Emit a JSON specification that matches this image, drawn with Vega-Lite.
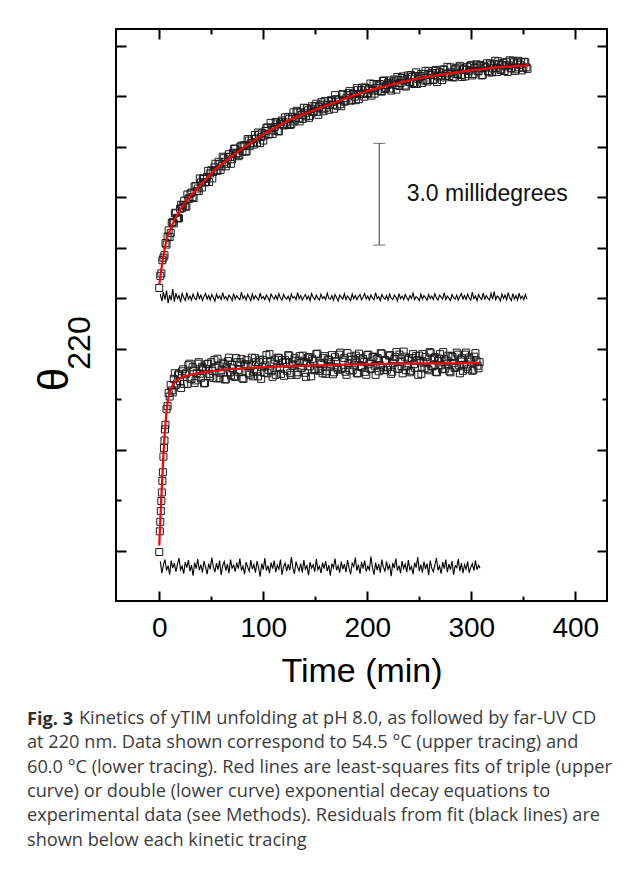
{
  "$schema": "https://vega.github.io/schema/vega-lite/v6.json",
  "width": 491,
  "height": 572,
  "autosize": {"type": "none"},
  "padding": {"left": 116, "top": 29, "right": 22, "bottom": 273},
  "background": "white",
  "title": {
    "text": "Fig. 3",
    "subtitle": [
      "\u200b\u00a0\u00a0\u00a0\u00a0\u00a0\u00a0\u00a0\u00a0\u00a0\u00a0\u00a0Kinetics of yTIM unfolding at pH 8.0, as followed by far-UV CD",
      "at 220 nm. Data shown correspond to 54.5 °C (upper tracing) and",
      "60.0 °C (lower tracing). Red lines are least-squares fits of triple (upper",
      "curve) or double (lower curve) exponential decay equations to",
      "experimental data (see Methods). Residuals from fit (black lines) are",
      "shown below each kinetic tracing"
    ],
    "orient": "bottom",
    "anchor": "start",
    "frame": "group",
    "dx": -89,
    "offset": 23,
    "font": "Open Sans",
    "fontSize": 18.2,
    "fontWeight": "bold",
    "color": "#2e2e2e",
    "baseline": "top",
    "subtitleFont": "Open Sans",
    "subtitleFontSize": 18.2,
    "subtitleFontWeight": "normal",
    "subtitleColor": "#3c3c3c",
    "subtitleLineHeight": 24.3,
    "subtitlePadding": -19
  },
  "datasets": {
    "up": [
      {"t":0,"v":5.20},{"t":1,"v":5.44},{"t":2,"v":5.49},{"t":3,"v":5.75},{"t":4,"v":5.80},{"t":5,"v":5.85},{"t":6,"v":6.09},{"t":7,"v":6.06},{"t":8,"v":6.22},{"t":10,"v":6.21},
      {"t":12,"v":6.49},{"t":14,"v":6.48},{"t":16,"v":6.69},{"t":18,"v":6.58},{"t":20,"v":6.77},{"t":22,"v":6.78},{"t":24,"v":6.93},{"t":26,"v":6.81},{"t":28,"v":6.97},{"t":30,"v":7.07},
      {"t":32,"v":7.00},{"t":34,"v":7.21},{"t":36,"v":7.12},{"t":38,"v":7.12},{"t":40,"v":7.29},{"t":42,"v":7.37},{"t":44,"v":7.29},{"t":46,"v":7.40},{"t":48,"v":7.30},{"t":50,"v":7.53},
      {"t":52,"v":7.50},{"t":54,"v":7.66},{"t":56,"v":7.52},{"t":58,"v":7.65},{"t":60,"v":7.61},{"t":62,"v":7.77},{"t":64,"v":7.61},{"t":66,"v":7.80},{"t":68,"v":7.79},{"t":70,"v":7.75},
      {"t":72,"v":7.96},{"t":74,"v":7.85},{"t":76,"v":7.81},{"t":78,"v":8.00},{"t":80,"v":7.91},{"t":82,"v":8.03},{"t":84,"v":7.91},{"t":86,"v":8.12},{"t":88,"v":8.07},{"t":90,"v":8.07},
      {"t":92,"v":8.23},{"t":94,"v":8.08},{"t":96,"v":8.24},{"t":98,"v":8.19},{"t":100,"v":8.12},{"t":102,"v":8.31},{"t":104,"v":8.38},{"t":106,"v":8.25},{"t":108,"v":8.37},{"t":110,"v":8.32},
      {"t":112,"v":8.49},{"t":114,"v":8.31},{"t":116,"v":8.45},{"t":118,"v":8.52},{"t":120,"v":8.42},{"t":122,"v":8.48},{"t":124,"v":8.59},{"t":126,"v":8.43},{"t":128,"v":8.59},{"t":130,"v":8.50},
      {"t":132,"v":8.71},{"t":134,"v":8.57},{"t":136,"v":8.68},{"t":138,"v":8.55},{"t":140,"v":8.66},{"t":142,"v":8.76},{"t":144,"v":8.57},{"t":146,"v":8.75},{"t":148,"v":8.69},{"t":150,"v":8.80},
      {"t":152,"v":8.69},{"t":154,"v":8.79},{"t":156,"v":8.88},{"t":158,"v":8.70},{"t":160,"v":8.77},{"t":162,"v":8.90},{"t":164,"v":8.83},{"t":166,"v":8.90},{"t":168,"v":8.75},{"t":170,"v":8.94},
      {"t":172,"v":8.92},{"t":174,"v":8.84},{"t":176,"v":9.04},{"t":178,"v":8.89},{"t":180,"v":8.96},{"t":182,"v":9.06},{"t":184,"v":8.91},{"t":186,"v":9.04},{"t":188,"v":8.99},{"t":190,"v":9.16},
      {"t":192,"v":8.94},{"t":194,"v":9.12},{"t":196,"v":9.05},{"t":198,"v":9.17},{"t":200,"v":9.04},{"t":202,"v":9.14},{"t":204,"v":9.01},{"t":206,"v":9.24},{"t":208,"v":9.16},{"t":210,"v":9.11},
      {"t":212,"v":9.24},{"t":214,"v":9.09},{"t":216,"v":9.31},{"t":218,"v":9.16},{"t":220,"v":9.26},{"t":222,"v":9.15},{"t":224,"v":9.25},{"t":226,"v":9.33},{"t":228,"v":9.13},{"t":230,"v":9.32},
      {"t":232,"v":9.26},{"t":234,"v":9.39},{"t":236,"v":9.21},{"t":238,"v":9.34},{"t":240,"v":9.28},{"t":242,"v":9.42},{"t":244,"v":9.26},{"t":246,"v":9.40},{"t":248,"v":9.24},{"t":250,"v":9.37},
      {"t":252,"v":9.44},{"t":254,"v":9.31},{"t":256,"v":9.50},{"t":258,"v":9.29},{"t":260,"v":9.42},{"t":262,"v":9.46},{"t":264,"v":9.33},{"t":266,"v":9.52},{"t":268,"v":9.39},{"t":270,"v":9.47},
      {"t":272,"v":9.32},{"t":274,"v":9.52},{"t":276,"v":9.40},{"t":278,"v":9.45},{"t":280,"v":9.57},{"t":282,"v":9.38},{"t":284,"v":9.53},{"t":286,"v":9.44},{"t":288,"v":9.57},{"t":290,"v":9.42},
      {"t":292,"v":9.53},{"t":294,"v":9.39},{"t":296,"v":9.58},{"t":298,"v":9.50},{"t":300,"v":9.62},{"t":302,"v":9.44},{"t":304,"v":9.57},{"t":306,"v":9.50},{"t":308,"v":9.62},{"t":310,"v":9.41},
      {"t":312,"v":9.60},{"t":314,"v":9.57},{"t":316,"v":9.50},{"t":318,"v":9.65},{"t":320,"v":9.47},{"t":322,"v":9.63},{"t":324,"v":9.56},{"t":326,"v":9.69},{"t":328,"v":9.52},{"t":330,"v":9.62},
      {"t":332,"v":9.50},{"t":334,"v":9.68},{"t":336,"v":9.61},{"t":338,"v":9.55},{"t":340,"v":9.70},{"t":342,"v":9.50},{"t":344,"v":9.65},{"t":346,"v":9.57},{"t":348,"v":9.68},{"t":350,"v":9.56},
      {"t":352,"v":9.67},{"t":354,"v":9.54},
      {"t":9,"v":6.34},{"t":11,"v":6.29},{"t":13,"v":6.51},{"t":15,"v":6.68},{"t":17,"v":6.59},{"t":19,"v":6.58},{"t":21,"v":6.85},{"t":23,"v":6.84},{"t":25,"v":6.82},{"t":27,"v":7.05},
      {"t":29,"v":6.97},{"t":31,"v":7.09},{"t":33,"v":6.98},{"t":35,"v":7.22},{"t":37,"v":7.17},{"t":39,"v":7.37},{"t":41,"v":7.19},{"t":43,"v":7.36},{"t":45,"v":7.30},{"t":47,"v":7.52},
      {"t":49,"v":7.47},{"t":51,"v":7.37},{"t":53,"v":7.59},{"t":55,"v":7.53},{"t":57,"v":7.70},{"t":59,"v":7.54},{"t":61,"v":7.80},{"t":63,"v":7.70},{"t":65,"v":7.66},{"t":67,"v":7.85},
      {"t":69,"v":7.66},{"t":71,"v":7.88},{"t":73,"v":7.96},{"t":75,"v":7.87},{"t":77,"v":7.83},{"t":79,"v":8.02},{"t":81,"v":8.01},{"t":83,"v":7.90},{"t":85,"v":8.15},{"t":87,"v":8.01},
      {"t":89,"v":8.15},{"t":91,"v":8.04},{"t":93,"v":8.16},{"t":95,"v":8.28},{"t":97,"v":8.07},{"t":99,"v":8.27},{"t":101,"v":8.22},{"t":103,"v":8.37},{"t":105,"v":8.24},{"t":107,"v":8.47},
      {"t":109,"v":8.25},{"t":111,"v":8.39},{"t":113,"v":8.46},{"t":115,"v":8.30},{"t":117,"v":8.49},{"t":119,"v":8.45},{"t":121,"v":8.58},{"t":123,"v":8.43},{"t":125,"v":8.55},{"t":127,"v":8.45},
      {"t":129,"v":8.68},{"t":131,"v":8.54},{"t":133,"v":8.68},{"t":135,"v":8.50},{"t":137,"v":8.63},{"t":139,"v":8.77},{"t":141,"v":8.60},{"t":143,"v":8.72},{"t":145,"v":8.61},{"t":147,"v":8.80},
      {"t":149,"v":8.70},{"t":151,"v":8.85},{"t":153,"v":8.63},{"t":155,"v":8.83},{"t":157,"v":8.74},{"t":159,"v":8.90},{"t":161,"v":8.83},{"t":163,"v":8.73},{"t":165,"v":8.92},{"t":167,"v":8.83},
      {"t":169,"v":9.02},{"t":171,"v":8.81},{"t":173,"v":8.93},{"t":175,"v":8.80},{"t":177,"v":9.03},{"t":179,"v":8.91},{"t":181,"v":9.02},{"t":183,"v":9.10},{"t":185,"v":8.93},{"t":187,"v":9.04},
      {"t":189,"v":8.92},{"t":191,"v":9.12},{"t":193,"v":9.04},{"t":195,"v":9.17},{"t":197,"v":8.99},{"t":199,"v":9.16},{"t":201,"v":9.06},{"t":203,"v":9.25},{"t":205,"v":9.11},{"t":207,"v":9.05},
      {"t":209,"v":9.23},{"t":211,"v":9.21},{"t":213,"v":9.10},{"t":215,"v":9.30},{"t":217,"v":9.14},{"t":219,"v":9.22},{"t":221,"v":9.31},{"t":223,"v":9.11},{"t":225,"v":9.29},{"t":227,"v":9.22},
      {"t":229,"v":9.38},{"t":231,"v":9.20},{"t":233,"v":9.36},{"t":235,"v":9.31},{"t":237,"v":9.19},{"t":239,"v":9.41},{"t":241,"v":9.28},{"t":243,"v":9.38},{"t":245,"v":9.24},{"t":247,"v":9.47},
      {"t":249,"v":9.34},{"t":251,"v":9.40},{"t":253,"v":9.26},{"t":255,"v":9.44},{"t":257,"v":9.32},{"t":259,"v":9.50},{"t":261,"v":9.43},{"t":263,"v":9.32},{"t":265,"v":9.50},{"t":267,"v":9.28},
      {"t":269,"v":9.47},{"t":271,"v":9.41},{"t":273,"v":9.53},{"t":275,"v":9.37},{"t":277,"v":9.58},{"t":279,"v":9.40},{"t":281,"v":9.47},{"t":283,"v":9.37},{"t":285,"v":9.55},{"t":287,"v":9.44},
      {"t":289,"v":9.60},{"t":291,"v":9.38},{"t":293,"v":9.55},{"t":295,"v":9.52},{"t":297,"v":9.44},{"t":299,"v":9.60},{"t":301,"v":9.41},{"t":303,"v":9.56},{"t":305,"v":9.63},{"t":307,"v":9.49},
      {"t":309,"v":9.60},{"t":311,"v":9.42},{"t":313,"v":9.57},{"t":315,"v":9.65},{"t":317,"v":9.47},{"t":319,"v":9.61},{"t":321,"v":9.55},{"t":323,"v":9.70},{"t":325,"v":9.48},{"t":327,"v":9.64},
      {"t":329,"v":9.53},{"t":331,"v":9.66},{"t":333,"v":9.59},{"t":335,"v":9.48},{"t":337,"v":9.71},{"t":339,"v":9.56},{"t":341,"v":9.67},{"t":343,"v":9.53},{"t":345,"v":9.70},{"t":347,"v":9.62},
      {"t":349,"v":9.51},{"t":351,"v":9.68},{"t":353,"v":9.57}
    ],
    "lo": [
      {"t":0,"v":-0.03},{"t":0.5,"v":0.38},{"t":1,"v":0.57},{"t":1.5,"v":0.78},{"t":2,"v":0.98},{"t":2.5,"v":1.15},{"t":3,"v":1.38},{"t":3.5,"v":1.55},{"t":4,"v":1.86},{"t":4.5,"v":2.03},
      {"t":5,"v":2.18},{"t":5.5,"v":2.40},{"t":6,"v":2.49},{"t":7,"v":2.80},{"t":8,"v":2.86},{"t":9,"v":3.12},{"t":10,"v":3.05},{"t":11,"v":3.28},{"t":12,"v":3.17},{"t":14,"v":3.40},
      {"t":16,"v":3.28},{"t":18,"v":3.47},{"t":20,"v":3.35},
      {"t":22,"v":3.55},{"t":24,"v":3.30},{"t":26,"v":3.51},{"t":28,"v":3.67},{"t":30,"v":3.40},{"t":32,"v":3.63},{"t":34,"v":3.32},{"t":36,"v":3.52},{"t":38,"v":3.73},{"t":40,"v":3.42},
      {"t":42,"v":3.61},{"t":44,"v":3.32},{"t":46,"v":3.69},{"t":48,"v":3.50},{"t":50,"v":3.73},{"t":52,"v":3.42},{"t":54,"v":3.62},{"t":56,"v":3.80},{"t":58,"v":3.41},{"t":60,"v":3.58},
      {"t":62,"v":3.69},{"t":64,"v":3.39},{"t":66,"v":3.75},{"t":68,"v":3.53},{"t":70,"v":3.68},{"t":72,"v":3.45},{"t":74,"v":3.81},{"t":76,"v":3.58},{"t":78,"v":3.73},{"t":80,"v":3.41},
      {"t":82,"v":3.68},{"t":84,"v":3.77},{"t":86,"v":3.51},{"t":88,"v":3.65},{"t":90,"v":3.45},{"t":92,"v":3.81},{"t":94,"v":3.55},{"t":96,"v":3.73},{"t":98,"v":3.40},{"t":100,"v":3.77},
      {"t":102,"v":3.67},{"t":104,"v":3.51},{"t":106,"v":3.89},{"t":108,"v":3.55},{"t":110,"v":3.70},{"t":112,"v":3.48},{"t":114,"v":3.82},{"t":116,"v":3.62},{"t":118,"v":3.77},{"t":120,"v":3.46},
      {"t":122,"v":3.73},{"t":124,"v":3.87},{"t":126,"v":3.52},{"t":128,"v":3.66},{"t":130,"v":3.81},{"t":132,"v":3.48},{"t":134,"v":3.76},{"t":136,"v":3.61},{"t":138,"v":3.86},{"t":140,"v":3.52},
      {"t":142,"v":3.71},{"t":144,"v":3.83},{"t":146,"v":3.45},{"t":148,"v":3.76},{"t":150,"v":3.59},{"t":152,"v":3.90},{"t":154,"v":3.56},{"t":156,"v":3.69},{"t":158,"v":3.81},{"t":160,"v":3.50},
      {"t":162,"v":3.78},{"t":164,"v":3.66},{"t":166,"v":3.87},{"t":168,"v":3.53},{"t":170,"v":3.75},{"t":172,"v":3.58},{"t":174,"v":3.92},{"t":176,"v":3.62},{"t":178,"v":3.81},{"t":180,"v":3.48},
      {"t":182,"v":3.71},{"t":184,"v":3.84},{"t":186,"v":3.57},{"t":188,"v":3.77},{"t":190,"v":3.51},{"t":192,"v":3.90},{"t":194,"v":3.65},{"t":196,"v":3.79},{"t":198,"v":3.54},{"t":200,"v":3.87},
      {"t":202,"v":3.70},{"t":204,"v":3.60},{"t":206,"v":3.84},{"t":208,"v":3.48},{"t":210,"v":3.81},{"t":212,"v":3.67},{"t":214,"v":3.90},{"t":216,"v":3.57},{"t":218,"v":3.76},{"t":220,"v":3.63},
      {"t":222,"v":3.87},{"t":224,"v":3.54},{"t":226,"v":3.79},{"t":228,"v":3.93},{"t":230,"v":3.60},{"t":232,"v":3.74},{"t":234,"v":3.51},{"t":236,"v":3.84},{"t":238,"v":3.65},{"t":240,"v":3.81},
      {"t":242,"v":3.56},{"t":244,"v":3.89},{"t":246,"v":3.62},{"t":248,"v":3.77},{"t":250,"v":3.86},{"t":252,"v":3.50},{"t":254,"v":3.72},{"t":256,"v":3.83},{"t":258,"v":3.60},{"t":260,"v":3.93},
      {"t":262,"v":3.65},{"t":264,"v":3.81},{"t":266,"v":3.54},{"t":268,"v":3.76},{"t":270,"v":3.89},{"t":272,"v":3.59},{"t":274,"v":3.79},{"t":276,"v":3.69},{"t":278,"v":3.86},{"t":280,"v":3.53},
      {"t":282,"v":3.83},{"t":284,"v":3.62},{"t":286,"v":3.92},{"t":288,"v":3.67},{"t":290,"v":3.77},{"t":292,"v":3.56},{"t":294,"v":3.88},{"t":296,"v":3.64},{"t":298,"v":3.82},{"t":300,"v":3.74},
      {"t":302,"v":3.58},{"t":304,"v":3.91},{"t":306,"v":3.66},{"t":308,"v":3.73},
      {"t":13,"v":3.13},{"t":15,"v":3.51},{"t":17,"v":3.31},{"t":19,"v":3.50},{"t":21,"v":3.22},{"t":23,"v":3.59},{"t":25,"v":3.49},{"t":27,"v":3.30},{"t":29,"v":3.70},{"t":31,"v":3.40},
      {"t":33,"v":3.56},{"t":35,"v":3.37},{"t":37,"v":3.70},{"t":39,"v":3.50},{"t":41,"v":3.64},{"t":43,"v":3.31},{"t":45,"v":3.59},{"t":47,"v":3.70},{"t":49,"v":3.45},{"t":51,"v":3.56},
      {"t":53,"v":3.77},{"t":55,"v":3.41},{"t":57,"v":3.66},{"t":59,"v":3.52},{"t":61,"v":3.72},{"t":63,"v":3.39},{"t":65,"v":3.64},{"t":67,"v":3.82},{"t":69,"v":3.47},{"t":71,"v":3.61},
      {"t":73,"v":3.44},{"t":75,"v":3.73},{"t":77,"v":3.53},{"t":79,"v":3.79},{"t":81,"v":3.40},{"t":83,"v":3.69},{"t":85,"v":3.65},{"t":87,"v":3.48},{"t":89,"v":3.82},{"t":91,"v":3.54},
      {"t":93,"v":3.73},{"t":95,"v":3.45},{"t":97,"v":3.78},{"t":99,"v":3.63},{"t":101,"v":3.52},{"t":103,"v":3.87},{"t":105,"v":3.58},{"t":107,"v":3.73},{"t":109,"v":3.44},{"t":111,"v":3.78},
      {"t":113,"v":3.61},{"t":115,"v":3.81},{"t":117,"v":3.50},{"t":119,"v":3.72},{"t":121,"v":3.77},{"t":123,"v":3.56},{"t":125,"v":3.86},{"t":127,"v":3.48},{"t":129,"v":3.69},{"t":131,"v":3.76},
      {"t":133,"v":3.53},{"t":135,"v":3.85},{"t":137,"v":3.62},{"t":139,"v":3.74},{"t":141,"v":3.44},{"t":143,"v":3.82},{"t":145,"v":3.65},{"t":147,"v":3.80},{"t":149,"v":3.57},{"t":151,"v":3.89},
      {"t":153,"v":3.60},{"t":155,"v":3.72},{"t":157,"v":3.51},{"t":159,"v":3.85},{"t":161,"v":3.55},{"t":163,"v":3.78},{"t":165,"v":3.70},{"t":167,"v":3.49},{"t":169,"v":3.83},{"t":171,"v":3.63},
      {"t":173,"v":3.88},{"t":175,"v":3.60},{"t":177,"v":3.74},{"t":179,"v":3.54},{"t":181,"v":3.91},{"t":183,"v":3.57},{"t":185,"v":3.78},{"t":187,"v":3.67},{"t":189,"v":3.86},{"t":191,"v":3.51},
      {"t":193,"v":3.81},{"t":195,"v":3.63},{"t":197,"v":3.73},{"t":199,"v":3.48},{"t":201,"v":3.88},{"t":203,"v":3.60},{"t":205,"v":3.83},{"t":207,"v":3.66},{"t":209,"v":3.79},{"t":211,"v":3.55},
      {"t":213,"v":3.91},{"t":215,"v":3.63},{"t":217,"v":3.77},{"t":219,"v":3.58},{"t":221,"v":3.86},{"t":223,"v":3.50},{"t":225,"v":3.71},{"t":227,"v":3.83},{"t":229,"v":3.60},{"t":231,"v":3.88},
      {"t":233,"v":3.65},{"t":235,"v":3.94},{"t":237,"v":3.57},{"t":239,"v":3.78},{"t":241,"v":3.53},{"t":243,"v":3.81},{"t":245,"v":3.69},{"t":247,"v":3.85},{"t":249,"v":3.48},{"t":251,"v":3.76},
      {"t":253,"v":3.89},{"t":255,"v":3.61},{"t":257,"v":3.73},{"t":259,"v":3.57},{"t":261,"v":3.91},{"t":263,"v":3.65},{"t":265,"v":3.83},{"t":267,"v":3.53},{"t":269,"v":3.80},{"t":271,"v":3.67},
      {"t":273,"v":3.93},{"t":275,"v":3.60},{"t":277,"v":3.76},{"t":279,"v":3.55},{"t":281,"v":3.85},{"t":283,"v":3.71},{"t":285,"v":3.63},{"t":287,"v":3.88},{"t":289,"v":3.51},{"t":291,"v":3.81},
      {"t":293,"v":3.68},{"t":295,"v":3.92},{"t":297,"v":3.59},{"t":299,"v":3.78},{"t":301,"v":3.56},{"t":303,"v":3.84},{"t":305,"v":3.76},{"t":307,"v":3.61}
    ],
    "upfit": [
      {"t":0,"v":5.26},{"t":1,"v":5.42},{"t":2,"v":5.57},{"t":3,"v":5.70},{"t":4,"v":5.83},{"t":5,"v":5.95},{"t":6,"v":6.05},{"t":8,"v":6.21},{"t":10,"v":6.33},{"t":12,"v":6.43},
      {"t":15,"v":6.56},{"t":18,"v":6.67},{"t":22,"v":6.80},{"t":26,"v":6.92},{"t":30,"v":7.02},{"t":35,"v":7.13},{"t":40,"v":7.25},{"t":45,"v":7.36},{"t":50,"v":7.47},{"t":55,"v":7.57},
      {"t":60,"v":7.65},{"t":65,"v":7.73},{"t":70,"v":7.81},{"t":80,"v":7.96},{"t":90,"v":8.10},{"t":100,"v":8.24},{"t":110,"v":8.36},{"t":120,"v":8.47},{"t":130,"v":8.57},{"t":140,"v":8.65},
      {"t":150,"v":8.73},{"t":160,"v":8.81},{"t":170,"v":8.88},{"t":180,"v":8.96},{"t":190,"v":9.03},{"t":200,"v":9.10},{"t":210,"v":9.16},{"t":220,"v":9.21},{"t":230,"v":9.26},{"t":240,"v":9.31},
      {"t":250,"v":9.35},{"t":260,"v":9.39},{"t":270,"v":9.42},{"t":280,"v":9.45},{"t":290,"v":9.48},{"t":300,"v":9.51},{"t":310,"v":9.53},{"t":320,"v":9.56},{"t":330,"v":9.58},{"t":340,"v":9.59},
      {"t":355,"v":9.61}
    ],
    "lofit": [
      {"t":0,"v":0.10},{"t":1,"v":0.60},{"t":2,"v":1.05},{"t":3,"v":1.48},{"t":4,"v":1.90},{"t":5,"v":2.24},{"t":6,"v":2.52},{"t":7,"v":2.76},{"t":8,"v":2.93},{"t":9,"v":3.05},
      {"t":10,"v":3.13},{"t":12,"v":3.24},{"t":15,"v":3.33},{"t":18,"v":3.39},{"t":23,"v":3.44},{"t":30,"v":3.48},{"t":40,"v":3.52},{"t":55,"v":3.56},{"t":70,"v":3.59},{"t":90,"v":3.62},
      {"t":110,"v":3.64},{"t":140,"v":3.66},{"t":180,"v":3.68},{"t":230,"v":3.70},{"t":308,"v":3.71}
    ],
    "upres": [
      {"t":1,"v":5.08},{"t":2.5,"v":4.94},{"t":4,"v":5.12},{"t":5.5,"v":4.97},{"t":7,"v":5.15},{"t":8.5,"v":4.90},{"t":10,"v":5.06},{"t":11.5,"v":4.96},{"t":13,"v":5.18},{"t":14.5,"v":4.93},
      {"t":16,"v":5.10},{"t":17.5,"v":4.99},{"t":19,"v":5.05},{"t":20.5,"v":4.92},{"t":22,"v":5.09},{"t":23.5,"v":5.01},{"t":25,"v":4.95},{"t":26.5,"v":5.11},{"t":28,"v":4.98},{"t":29.5,"v":5.04},
      {"t":31,"v":4.96},{"t":32.5,"v":5.08},{"t":34,"v":5.00},{"t":35.5,"v":4.97},{"t":37,"v":5.10},{"t":38.5,"v":4.99},{"t":40,"v":5.06},{"t":41.5,"v":4.95},{"t":43,"v":5.03},{"t":44.5,"v":5.09},
      {"t":46,"v":4.98},{"t":47.5,"v":5.05},{"t":49,"v":4.96},{"t":50.5,"v":5.07},{"t":52,"v":5.01},{"t":53.5,"v":4.94},{"t":55,"v":5.08},{"t":56.5,"v":5.00},{"t":58,"v":5.04},{"t":59.5,"v":4.97},
      {"t":61,"v":5.11},{"t":62.5,"v":4.99},{"t":64,"v":5.03},{"t":65.5,"v":4.96},{"t":67,"v":5.06},{"t":68.5,"v":5.02},{"t":70,"v":4.95},{"t":71.5,"v":5.09},{"t":73,"v":4.98},{"t":74.5,"v":5.05},
      {"t":76,"v":5.00},{"t":77.5,"v":4.97},{"t":79,"v":5.12},{"t":80.5,"v":4.99},{"t":82,"v":5.04},{"t":83.5,"v":4.96},{"t":85,"v":5.07},{"t":86.5,"v":5.01},{"t":88,"v":4.95},{"t":89.5,"v":5.08},
      {"t":91,"v":4.98},{"t":92.5,"v":5.05},{"t":94,"v":5.00},{"t":95.5,"v":4.96},{"t":97,"v":5.10},{"t":98.5,"v":4.99},{"t":100,"v":5.03},{"t":101.5,"v":4.97},{"t":103,"v":5.06},{"t":104.5,"v":5.01},
      {"t":106,"v":4.94},{"t":107.5,"v":5.08},{"t":109,"v":5.02},{"t":110.5,"v":4.98},{"t":112,"v":5.05},{"t":113.5,"v":4.97},{"t":115,"v":5.09},{"t":116.5,"v":5.00},{"t":118,"v":4.96},{"t":119.5,"v":5.07},
      {"t":121,"v":5.01},{"t":122.5,"v":4.98},{"t":124,"v":5.04},{"t":125.5,"v":4.95},{"t":127,"v":5.08},{"t":128.5,"v":5.00},{"t":130,"v":5.03},{"t":131.5,"v":4.97},{"t":133,"v":5.11},{"t":134.5,"v":4.99},
      {"t":136,"v":5.05},{"t":137.5,"v":4.96},{"t":139,"v":5.02},{"t":140.5,"v":5.07},{"t":142,"v":4.98},{"t":143.5,"v":5.04},{"t":145,"v":4.95},{"t":146.5,"v":5.09},{"t":148,"v":5.01},{"t":149.5,"v":4.97},
      {"t":151,"v":5.06},{"t":152.5,"v":5.00},{"t":154,"v":4.96},{"t":155.5,"v":5.08},{"t":157,"v":4.99},{"t":158.5,"v":5.03},{"t":160,"v":4.97},{"t":161.5,"v":5.10},{"t":163,"v":5.00},{"t":164.5,"v":4.98},
      {"t":166,"v":5.05},{"t":167.5,"v":4.96},{"t":169,"v":5.07},{"t":170.5,"v":5.01},{"t":172,"v":4.94},{"t":173.5,"v":5.06},{"t":175,"v":5.02},{"t":176.5,"v":4.98},{"t":178,"v":5.09},{"t":179.5,"v":4.97},
      {"t":181,"v":5.04},{"t":182.5,"v":5.00},{"t":184,"v":4.95},{"t":185.5,"v":5.08},{"t":187,"v":4.99},{"t":188.5,"v":5.05},{"t":190,"v":4.97},{"t":191.5,"v":5.03},{"t":193,"v":5.07},{"t":194.5,"v":4.96},
      {"t":196,"v":5.02},{"t":197.5,"v":5.09},{"t":199,"v":4.98},{"t":200.5,"v":5.04},{"t":202,"v":4.96},{"t":203.5,"v":5.06},{"t":205,"v":5.00},{"t":206.5,"v":4.97},{"t":208,"v":5.11},{"t":209.5,"v":4.99},
      {"t":211,"v":5.03},{"t":212.5,"v":4.95},{"t":214,"v":5.07},{"t":215.5,"v":5.01},{"t":217,"v":4.98},{"t":218.5,"v":5.05},{"t":220,"v":4.96},{"t":221.5,"v":5.08},{"t":223,"v":5.00},{"t":224.5,"v":4.97},
      {"t":226,"v":5.06},{"t":227.5,"v":5.02},{"t":229,"v":4.94},{"t":230.5,"v":5.09},{"t":232,"v":4.99},{"t":233.5,"v":5.04},{"t":235,"v":4.97},{"t":236.5,"v":5.07},{"t":238,"v":5.01},{"t":239.5,"v":4.96},
      {"t":241,"v":5.05},{"t":242.5,"v":4.99},{"t":244,"v":5.10},{"t":245.5,"v":4.97},{"t":247,"v":5.03},{"t":248.5,"v":5.00},{"t":250,"v":4.95},{"t":251.5,"v":5.08},{"t":253,"v":4.98},{"t":254.5,"v":5.05},
      {"t":256,"v":5.01},{"t":257.5,"v":4.96},{"t":259,"v":5.07},{"t":260.5,"v":4.99},{"t":262,"v":5.04},{"t":263.5,"v":4.97},{"t":265,"v":5.09},{"t":266.5,"v":5.00},{"t":268,"v":4.96},{"t":269.5,"v":5.06},
      {"t":271,"v":5.02},{"t":272.5,"v":4.98},{"t":274,"v":5.11},{"t":275.5,"v":4.97},{"t":277,"v":5.04},{"t":278.5,"v":5.00},{"t":280,"v":4.95},{"t":281.5,"v":5.07},{"t":283,"v":5.01},{"t":284.5,"v":4.98},
      {"t":286,"v":5.06},{"t":287.5,"v":4.96},{"t":289,"v":5.03},{"t":290.5,"v":5.09},{"t":292,"v":4.98},{"t":293.5,"v":5.05},{"t":295,"v":4.97},{"t":296.5,"v":5.08},{"t":298,"v":5.00},{"t":299.5,"v":4.96},
      {"t":301,"v":5.12},{"t":302.5,"v":4.99},{"t":304,"v":5.04},{"t":305.5,"v":4.95},{"t":307,"v":5.07},{"t":308.5,"v":5.01},{"t":310,"v":4.97},{"t":311.5,"v":5.10},{"t":313,"v":4.98},{"t":314.5,"v":5.05},
      {"t":316,"v":5.00},{"t":317.5,"v":4.96},{"t":319,"v":5.09},{"t":320.5,"v":4.98},{"t":322,"v":5.13},{"t":323.5,"v":4.97},{"t":325,"v":5.04},{"t":326.5,"v":5.01},{"t":328,"v":4.94},{"t":329.5,"v":5.08},
      {"t":331,"v":4.99},{"t":332.5,"v":5.06},{"t":334,"v":4.97},{"t":335.5,"v":5.11},{"t":337,"v":5.00},{"t":338.5,"v":4.95},{"t":340,"v":5.09},{"t":341.5,"v":4.98},{"t":343,"v":5.05},{"t":344.5,"v":4.96},
      {"t":346,"v":5.10},{"t":347.5,"v":4.99},{"t":349,"v":5.04},{"t":350.5,"v":4.97},{"t":352,"v":5.07},{"t":353.5,"v":4.98}
    ],
    "lores": [
      {"t":1,"v":-0.22},{"t":2.5,"v":-0.45},{"t":4,"v":-0.28},{"t":5.5,"v":-0.18},{"t":7,"v":-0.40},{"t":8.5,"v":-0.30},{"t":10,"v":-0.48},{"t":11.5,"v":-0.20},{"t":13,"v":-0.35},{"t":14.5,"v":-0.25},
      {"t":16,"v":-0.42},{"t":17.5,"v":-0.27},{"t":19,"v":-0.15},{"t":20.5,"v":-0.38},{"t":22,"v":-0.31},{"t":23.5,"v":-0.46},{"t":25,"v":-0.23},{"t":26.5,"v":-0.34},{"t":28,"v":-0.19},{"t":29.5,"v":-0.41},
      {"t":31,"v":-0.29},{"t":32.5,"v":-0.50},{"t":34,"v":-0.24},{"t":35.5,"v":-0.36},{"t":37,"v":-0.17},{"t":38.5,"v":-0.39},{"t":40,"v":-0.28},{"t":41.5,"v":-0.44},{"t":43,"v":-0.21},{"t":44.5,"v":-0.33},
      {"t":46,"v":-0.47},{"t":47.5,"v":-0.26},{"t":49,"v":-0.37},{"t":50.5,"v":-0.14},{"t":52,"v":-0.32},{"t":53.5,"v":-0.43},{"t":55,"v":-0.25},{"t":56.5,"v":-0.38},{"t":58,"v":-0.20},{"t":59.5,"v":-0.49},
      {"t":61,"v":-0.30},{"t":62.5,"v":-0.22},{"t":64,"v":-0.40},{"t":65.5,"v":-0.27},{"t":67,"v":-0.45},{"t":68.5,"v":-0.18},{"t":70,"v":-0.35},{"t":71.5,"v":-0.29},{"t":73,"v":-0.42},{"t":74.5,"v":-0.24},
      {"t":76,"v":-0.36},{"t":77.5,"v":-0.16},{"t":79,"v":-0.39},{"t":80.5,"v":-0.31},{"t":82,"v":-0.47},{"t":83.5,"v":-0.23},{"t":85,"v":-0.33},{"t":86.5,"v":-0.41},{"t":88,"v":-0.19},{"t":89.5,"v":-0.37},
      {"t":91,"v":-0.28},{"t":92.5,"v":-0.44},{"t":94,"v":-0.21},{"t":95.5,"v":-0.34},{"t":97,"v":-0.52},{"t":98.5,"v":-0.26},{"t":100,"v":-0.38},{"t":101.5,"v":-0.15},{"t":103,"v":-0.40},{"t":104.5,"v":-0.30},
      {"t":106,"v":-0.45},{"t":107.5,"v":-0.24},{"t":109,"v":-0.36},{"t":110.5,"v":-0.20},{"t":112,"v":-0.43},{"t":113.5,"v":-0.29},{"t":115,"v":-0.37},{"t":116.5,"v":-0.18},{"t":118,"v":-0.48},{"t":119.5,"v":-0.32},
      {"t":121,"v":-0.25},{"t":122.5,"v":-0.41},{"t":124,"v":-0.27},{"t":125.5,"v":-0.39},{"t":127,"v":-0.13},{"t":128.5,"v":-0.35},{"t":130,"v":-0.46},{"t":131.5,"v":-0.22},{"t":133,"v":-0.33},{"t":134.5,"v":-0.40},
      {"t":136,"v":-0.26},{"t":137.5,"v":-0.44},{"t":139,"v":-0.19},{"t":140.5,"v":-0.37},{"t":142,"v":-0.30},{"t":143.5,"v":-0.49},{"t":145,"v":-0.23},{"t":146.5,"v":-0.35},{"t":148,"v":-0.28},{"t":149.5,"v":-0.42},
      {"t":151,"v":-0.17},{"t":152.5,"v":-0.38},{"t":154,"v":-0.31},{"t":155.5,"v":-0.45},{"t":157,"v":-0.24},{"t":158.5,"v":-0.36},{"t":160,"v":-0.21},{"t":161.5,"v":-0.41},{"t":163,"v":-0.29},{"t":164.5,"v":-0.50},
      {"t":166,"v":-0.26},{"t":167.5,"v":-0.34},{"t":169,"v":-0.16},{"t":170.5,"v":-0.39},{"t":172,"v":-0.30},{"t":173.5,"v":-0.44},{"t":175,"v":-0.22},{"t":176.5,"v":-0.37},{"t":178,"v":-0.27},{"t":179.5,"v":-0.43},
      {"t":181,"v":-0.19},{"t":182.5,"v":-0.35},{"t":184,"v":-0.47},{"t":185.5,"v":-0.25},{"t":187,"v":-0.32},{"t":188.5,"v":-0.14},{"t":190,"v":-0.40},{"t":191.5,"v":-0.28},{"t":193,"v":-0.46},{"t":194.5,"v":-0.23},
      {"t":196,"v":-0.36},{"t":197.5,"v":-0.20},{"t":199,"v":-0.42},{"t":200.5,"v":-0.31},{"t":202,"v":-0.38},{"t":203.5,"v":-0.12},{"t":205,"v":-0.34},{"t":206.5,"v":-0.48},{"t":208,"v":-0.24},{"t":209.5,"v":-0.39},
      {"t":211,"v":-0.27},{"t":212.5,"v":-0.44},{"t":214,"v":-0.18},{"t":215.5,"v":-0.33},{"t":217,"v":-0.41},{"t":218.5,"v":-0.22},{"t":220,"v":-0.37},{"t":221.5,"v":-0.29},{"t":223,"v":-0.51},{"t":224.5,"v":-0.25},
      {"t":226,"v":-0.35},{"t":227.5,"v":-0.16},{"t":229,"v":-0.40},{"t":230.5,"v":-0.30},{"t":232,"v":-0.45},{"t":233.5,"v":-0.21},{"t":235,"v":-0.36},{"t":236.5,"v":-0.27},{"t":238,"v":-0.43},{"t":239.5,"v":-0.19},
      {"t":241,"v":-0.38},{"t":242.5,"v":-0.32},{"t":244,"v":-0.47},{"t":245.5,"v":-0.24},{"t":247,"v":-0.34},{"t":248.5,"v":-0.13},{"t":250,"v":-0.41},{"t":251.5,"v":-0.28},{"t":253,"v":-0.44},{"t":254.5,"v":-0.22},
      {"t":256,"v":-0.37},{"t":257.5,"v":-0.26},{"t":259,"v":-0.49},{"t":260.5,"v":-0.20},{"t":262,"v":-0.35},{"t":263.5,"v":-0.42},{"t":265,"v":-0.29},{"t":266.5,"v":-0.15},{"t":268,"v":-0.39},{"t":269.5,"v":-0.31},
      {"t":271,"v":-0.46},{"t":272.5,"v":-0.23},{"t":274,"v":-0.36},{"t":275.5,"v":-0.18},{"t":277,"v":-0.43},{"t":278.5,"v":-0.27},{"t":280,"v":-0.38},{"t":281.5,"v":-0.21},{"t":283,"v":-0.48},{"t":284.5,"v":-0.30},
      {"t":286,"v":-0.34},{"t":287.5,"v":-0.17},{"t":289,"v":-0.41},{"t":290.5,"v":-0.25},{"t":292,"v":-0.45},{"t":293.5,"v":-0.28},{"t":295,"v":-0.37},{"t":296.5,"v":-0.22},{"t":298,"v":-0.44},{"t":299.5,"v":-0.33},
      {"t":301,"v":-0.26},{"t":302.5,"v":-0.40},{"t":304,"v":-0.20},{"t":305.5,"v":-0.38},{"t":307,"v":-0.29},{"t":308.5,"v":-0.35}
    ],
    "bar": [{"t":211.5,"lo":6.05,"hi":8.065}],
    "barcaps": [{"t":211.5,"v":6.05},{"t":211.5,"v":8.065}],
    "note": [{"t":237.9,"v":7.07,"label":"3.0 millidegrees"}]
  },
  "resolve": {"axis": {"x": "independent", "y": "independent"}},
  "layer": [
    {
      "data": {"name": "upres"},
      "mark": {"type": "line", "color": "black", "strokeWidth": 1.1},
      "encoding": {
        "x": {"field": "t", "type": "quantitative", "scale": {"domain": [-41.6, 430.5], "nice": false, "zero": false}, "axis": null},
        "y": {"field": "v", "type": "quantitative", "scale": {"domain": [-1.0, 10.33], "nice": false, "zero": false}, "axis": null}
      }
    },
    {
      "data": {"name": "lores"},
      "mark": {"type": "line", "color": "black", "strokeWidth": 1.1},
      "encoding": {
        "x": {"field": "t", "type": "quantitative", "axis": null},
        "y": {"field": "v", "type": "quantitative", "axis": null}
      }
    },
    {
      "data": {"name": "up"},
      "mark": {"type": "point", "shape": "square", "filled": false, "size": 49, "color": "#1a1a1a", "strokeWidth": 1, "opacity": 1},
      "encoding": {
        "x": {"field": "t", "type": "quantitative",
          "axis": {"orient": "bottom", "values": [0, 100, 200, 300, 400], "tickSize": -10, "labelFontSize": 28, "labelBaseline": "alphabetic", "labelPadding": 45, "labelFlush": false, "labelOverlap": false,
            "title": "Time (min)", "titleFontSize": 34, "titleBaseline": "alphabetic", "titleAlign": "center", "titleX": 245.5, "titleY": 80}},
        "y": {"field": "v", "type": "quantitative",
          "axis": {"orient": "left", "values": [0, 2, 4, 5, 6, 7, 8, 9, 10], "tickSize": -10, "labels": false,
            "title": "θ", "titleFontSize": 42, "titleAngle": -90, "titleBaseline": "alphabetic", "titleAlign": "center", "titleX": -49, "titleY": 350}}
      }
    },
    {
      "data": {"name": "lo"},
      "mark": {"type": "point", "shape": "square", "filled": false, "size": 49, "color": "#1a1a1a", "strokeWidth": 1, "opacity": 1},
      "encoding": {
        "x": {"field": "t", "type": "quantitative",
          "axis": {"orient": "top", "values": [0, 100, 200, 300, 400], "tickSize": -10, "labels": false, "title": null}},
        "y": {"field": "v", "type": "quantitative",
          "axis": {"orient": "right", "values": [0, 2, 4, 5, 6, 7, 8, 9, 10], "tickSize": -10, "labels": false, "title": null}}
      }
    },
    {
      "data": {"name": "upfit"},
      "mark": {"type": "line", "color": "#ff0000", "strokeWidth": 2.2, "interpolate": "monotone"},
      "encoding": {
        "x": {"field": "t", "type": "quantitative",
          "axis": {"orient": "bottom", "values": [50, 150, 250, 350], "tickSize": -5, "labels": false, "title": null}},
        "y": {"field": "v", "type": "quantitative",
          "axis": {"orient": "left", "values": [1, 3], "tickSize": -5, "labels": false,
            "title": "220", "titleFontSize": 32, "titleAngle": -90, "titleBaseline": "alphabetic", "titleAlign": "center", "titleX": -27, "titleY": 313.5}}
      }
    },
    {
      "data": {"name": "lofit"},
      "mark": {"type": "line", "color": "#ff0000", "strokeWidth": 2.2, "interpolate": "monotone"},
      "encoding": {
        "x": {"field": "t", "type": "quantitative",
          "axis": {"orient": "top", "values": [50, 150, 250, 350], "tickSize": -5, "labels": false, "title": null}},
        "y": {"field": "v", "type": "quantitative",
          "axis": {"orient": "right", "values": [1, 3], "tickSize": -5, "labels": false, "title": null}}
      }
    },
    {
      "data": {"name": "bar"},
      "mark": {"type": "rule", "color": "#333333", "strokeWidth": 1},
      "encoding": {
        "x": {"field": "t", "type": "quantitative", "axis": null},
        "y": {"field": "lo", "type": "quantitative", "axis": null},
        "y2": {"field": "hi"}
      }
    },
    {
      "data": {"name": "barcaps"},
      "mark": {"type": "tick", "orient": "horizontal", "color": "#333333", "size": 12, "thickness": 1},
      "encoding": {
        "x": {"field": "t", "type": "quantitative", "axis": null},
        "y": {"field": "v", "type": "quantitative", "axis": null}
      }
    },
    {
      "data": {"name": "note"},
      "mark": {"type": "text", "align": "left", "baseline": "middle", "font": "Liberation Sans", "fontSize": 23, "color": "#111111"},
      "encoding": {
        "x": {"field": "t", "type": "quantitative", "axis": null},
        "y": {"field": "v", "type": "quantitative", "axis": null},
        "text": {"field": "label"}
      }
    }
  ],
  "config": {
    "view": {"stroke": "black", "strokeWidth": 2},
    "axis": {"domain": false, "grid": false, "ticks": true, "tickColor": "black", "tickWidth": 2, "labelFont": "Liberation Sans", "labelColor": "black", "titleFont": "Liberation Sans", "titleFontWeight": "normal", "titleColor": "black"}
  }
}
